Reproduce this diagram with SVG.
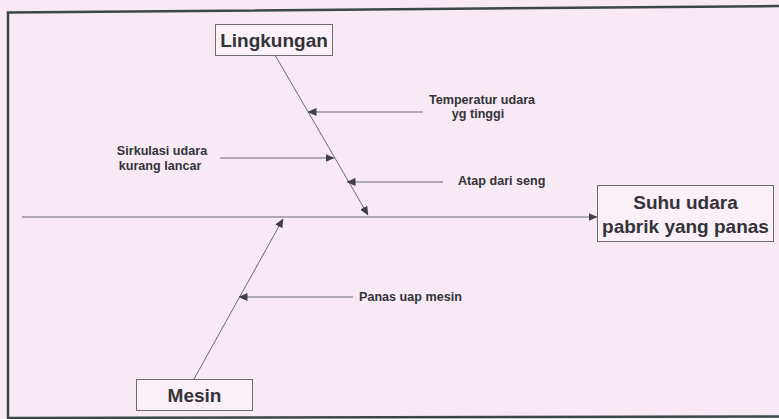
<svg xmlns="http://www.w3.org/2000/svg" width="779" height="419" viewBox="0 0 779 419">
  <style>
    .bg { fill: #f7eaf5; }
    .frame { fill: none; stroke: #3c4848; stroke-width: 2.5; }
    .box { fill: #f9f0f8; stroke: #6a6a70; stroke-width: 1; }
    .line { fill: none; stroke: #6b6b75; stroke-width: 1; }
    .big { font-family: "Liberation Sans", Arial, sans-serif; font-weight: bold; font-size: 19px; fill: #333338; text-anchor: middle; }
    .small { font-family: "Liberation Sans", Arial, sans-serif; font-weight: bold; font-size: 12.6px; fill: #333338; }
  </style>
  <defs>
    <marker id="arrow" markerWidth="9" markerHeight="8" refX="8.5" refY="4" orient="auto" markerUnits="userSpaceOnUse">
      <path d="M0,0 L9,4 L0,8 Z" fill="#3f3f46"/>
    </marker>
  </defs>

  <rect class="bg" x="0" y="0" width="779" height="419"/>
  <!-- outer frame -->
  <polyline class="frame" points="779,6 8,12.5 8,419"/>
  <line class="frame" x1="8" y1="418" x2="779" y2="416.5"/>

  <g id="connectors">
    <!-- spine -->
    <line class="line" x1="22" y1="217" x2="597" y2="217" marker-end="url(#arrow)"/>
    <!-- main bones -->
    <line class="line" x1="275" y1="55" x2="368" y2="215" marker-end="url(#arrow)"/>
    <line class="line" x1="194" y1="379" x2="283" y2="219" marker-end="url(#arrow)"/>
    <!-- causes -->
    <line class="line" x1="423" y1="112" x2="308" y2="112" marker-end="url(#arrow)"/>
    <line class="line" x1="220" y1="158" x2="334" y2="158" marker-end="url(#arrow)"/>
    <line class="line" x1="443" y1="182" x2="347" y2="182" marker-end="url(#arrow)"/>
    <line class="line" x1="353" y1="297" x2="239" y2="297" marker-end="url(#arrow)"/>
  </g>

  <g id="lingkungan">
    <rect class="box" x="215.5" y="24.5" width="117" height="31"/>
    <text class="big" x="274" y="47">Lingkungan</text>
  </g>

  <g id="mesin">
    <rect class="box" x="136.5" y="379.5" width="116" height="31"/>
    <text class="big" x="194.5" y="402">Mesin</text>
  </g>

  <g id="effect">
    <rect class="box" x="597.5" y="185.5" width="176" height="56"/>
    <text class="big" x="685.5" y="209">Suhu udara</text>
    <text class="big" x="685.5" y="233">pabrik yang panas</text>
  </g>

  <g id="temperatur">
    <text class="small" x="482" y="104" text-anchor="middle">Temperatur udara</text>
    <text class="small" x="478" y="118" text-anchor="middle">yg tinggi</text>
  </g>

  <g id="sirkulasi">
    <text class="small" x="162" y="155" text-anchor="middle">Sirkulasi udara</text>
    <text class="small" x="160" y="170" text-anchor="middle">kurang lancar</text>
  </g>

  <g id="atap">
    <text class="small" x="458" y="185">Atap dari seng</text>
  </g>

  <g id="panas">
    <text class="small" x="359" y="301">Panas uap mesin</text>
  </g>
</svg>
